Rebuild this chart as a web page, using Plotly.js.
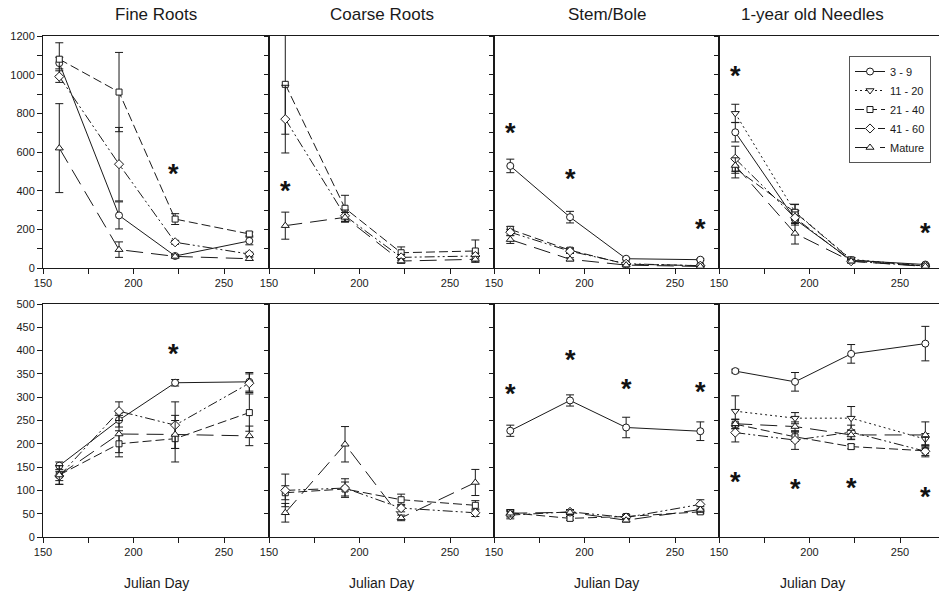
<!DOCTYPE html>
<html><head><meta charset="utf-8">
<script src="https://cdn.plot.ly/plotly-3.0.1.min.js"></script>
<style>html,body{margin:0;padding:0;background:#fff}#chart{width:939px;height:597px}</style>
</head><body><div id="chart"></div>
<script>
// ---------------- DATA ----------------
const days = [159, 192, 223, 264];
const groupNames = ['3 - 9', '11 - 20', '21 - 40', '41 - 60', 'Mature'];
const panelTitles = ['Fine Roots', 'Coarse Roots', 'Stem/Bole', '1-year old Needles'];
const xAxisTitle = 'Julian Day';
const xTickVals = [150, 200, 250];
const yTickValsTop = [0, 200, 400, 600, 800, 1000, 1200];
const yTickValsBottom = [0, 50, 100, 150, 200, 250, 300, 350, 400, 450, 500];

// Top row, Fine Roots
const fineTop39 = [1060, 272, 62, 140];      const fineTop39Err = [30, 70, 8, 20];
const fineTop2140 = [1080, 910, 253, 176];   const fineTop2140Err = [85, 205, 28, 10];
const fineTop4160 = [990, 537, 133, 72];     const fineTop4160Err = [30, 190, 10, 10];
const fineTopMat = [620, 95, 60, 48];        const fineTopMatErr = [230, 40, 8, 8];
// Top row, Coarse Roots
const coarseTop2140 = [950, 309, 79, 88];    const coarseTop2140Err = [258, 67, 30, 57];
const coarseTop4160 = [770, 270, 55, 62];    const coarseTop4160Err = [175, 30, 15, 15];
const coarseTopMat = [219, 262, 36, 45];     const coarseTopMatErr = [70, 25, 12, 15];
// Top row, Stem/Bole
const stemTop39 = [528, 263, 48, 43];        const stemTop39Err = [35, 30, 5, 5];
const stemTop2140 = [200, 92, 20, 12];       const stemTop2140Err = [15, 12, 4, 3];
const stemTop4160 = [185, 87, 22, 12];       const stemTop4160Err = [15, 12, 4, 3];
const stemTopMat = [147, 45, 15, 8];         const stemTopMatErr = [20, 8, 3, 2];
// Top row, 1-year old Needles
const needleTop39 = [702, 252, 40, 18];      const needleTop39Err = [50, 30, 8, 5];
const needleTop1120 = [800, 290, 45, 10];    const needleTop1120Err = [47, 40, 10, 3];
const needleTop2140 = [516, 288, 42, 10];    const needleTop2140Err = [50, 40, 10, 3];
const needleTop4160 = [565, 260, 35, 10];    const needleTop4160Err = [65, 30, 8, 3];
const needleTopMat = [530, 179, 35, 8];      const needleTopMatErr = [40, 55, 8, 3];

// Bottom row, Fine Roots
const fineBot39 = [153, 251, 331, 333];      const fineBot39Err = [8, 15, 7, 20];
const fineBot2140 = [133, 200, 211, 267];    const fineBot2140Err = [20, 28, 50, 40];
const fineBot4160 = [131, 270, 240, 330];    const fineBot4160Err = [10, 20, 50, 20];
const fineBotMat = [133, 221, 220, 217];     const fineBotMatErr = [20, 40, 30, 21];
// Bottom row, Coarse Roots
const coarseBot2140 = [95, 103, 80, 68];     const coarseBot2140Err = [15, 15, 12, 10];
const coarseBot4160 = [100, 105, 62, 52];    const coarseBot4160Err = [35, 20, 8, 8];
const coarseBotMat = [52, 199, 41, 117];     const coarseBotMatErr = [20, 38, 6, 28];
// Bottom row, Stem/Bole
const stemBot39 = [228, 293, 235, 227];      const stemBot39Err = [12, 12, 22, 20];
const stemBot2140 = [52, 40, 44, 54];        const stemBot2140Err = [5, 4, 4, 4];
const stemBot4160 = [47, 54, 42, 70];        const stemBot4160Err = [8, 5, 5, 10];
const stemBotMat = [51, 53, 36, 59];         const stemBotMatErr = [8, 5, 4, 6];
// Bottom row, 1-year old Needles
const needleBot39 = [356, 333, 393, 415];    const needleBot39Err = [4, 20, 20, 37];
const needleBot1120 = [270, 255, 255, 210];  const needleBot1120Err = [33, 12, 25, 12];
const needleBot2140 = [242, 215, 194, 185];  const needleBot2140Err = [10, 10, 5, 10];
const needleBot4160 = [224, 208, 225, 184];  const needleBot4160Err = [20, 20, 15, 12];
const needleBotMat = [243, 237, 219, 219];   const needleBotMatErr = [10, 10, 10, 28];

// Significance asterisks (day, value)
const starsFineTopX = [222];            const starsFineTopY = [515];
const starsCoarseTopX = [159];          const starsCoarseTopY = [430];
const starsStemTopX = [159, 192, 264];  const starsStemTopY = [731, 490, 234];
const starsNeedleTopX = [159, 264];     const starsNeedleTopY = [1024, 214];
const starsFineBotX = [222];            const starsFineBotY = [405];
const starsStemBotX = [159, 192, 223, 264];   const starsStemBotY = [319, 392, 330, 325];
const starsNeedleBotX = [159, 192, 223, 264]; const starsNeedleBotY = [131, 115, 118, 99];

// ---------------- TABLE ----------------
const panels = [
  {row: 0, col: 0, series: [[0, fineTop39, fineTop39Err], [2, fineTop2140, fineTop2140Err], [3, fineTop4160, fineTop4160Err], [4, fineTopMat, fineTopMatErr]], stars: [starsFineTopX, starsFineTopY]},
  {row: 0, col: 1, series: [[2, coarseTop2140, coarseTop2140Err], [3, coarseTop4160, coarseTop4160Err], [4, coarseTopMat, coarseTopMatErr]], stars: [starsCoarseTopX, starsCoarseTopY]},
  {row: 0, col: 2, series: [[0, stemTop39, stemTop39Err], [2, stemTop2140, stemTop2140Err], [3, stemTop4160, stemTop4160Err], [4, stemTopMat, stemTopMatErr]], stars: [starsStemTopX, starsStemTopY]},
  {row: 0, col: 3, legend: true, series: [[0, needleTop39, needleTop39Err], [1, needleTop1120, needleTop1120Err], [2, needleTop2140, needleTop2140Err], [3, needleTop4160, needleTop4160Err], [4, needleTopMat, needleTopMatErr]], stars: [starsNeedleTopX, starsNeedleTopY]},
  {row: 1, col: 0, series: [[0, fineBot39, fineBot39Err], [2, fineBot2140, fineBot2140Err], [3, fineBot4160, fineBot4160Err], [4, fineBotMat, fineBotMatErr]], stars: [starsFineBotX, starsFineBotY]},
  {row: 1, col: 1, series: [[2, coarseBot2140, coarseBot2140Err], [3, coarseBot4160, coarseBot4160Err], [4, coarseBotMat, coarseBotMatErr]], stars: [[], []]},
  {row: 1, col: 2, series: [[0, stemBot39, stemBot39Err], [2, stemBot2140, stemBot2140Err], [3, stemBot4160, stemBot4160Err], [4, stemBotMat, stemBotMatErr]], stars: [starsStemBotX, starsStemBotY]},
  {row: 1, col: 3, series: [[0, needleBot39, needleBot39Err], [1, needleBot1120, needleBot1120Err], [2, needleBot2140, needleBot2140Err], [3, needleBot4160, needleBot4160Err], [4, needleBotMat, needleBotMatErr]], stars: [starsNeedleBotX, starsNeedleBotY]}
];

// ---------------- STYLE ----------------
const W = 939, H = 597;
const FONT = 'Liberation Sans, Arial, Helvetica, sans-serif';
const INK = '#1a1a1a';
const groupSymbols = ['circle', 'triangle-down', 'square', 'diamond', 'triangle-up'];
const groupSizes = [7, 7, 6, 7, 7];
const groupDash = ['solid', '2px,3px', '9px,4px', '10px,3px,2px,3px,2px,3px', '17px,8px'];
const colPx = [[43, 269], [269, 494], [494, 719], [719, 939]];
const rowPx = [[36, 268], [304, 537]];
const pxPerDay = 1.81;

const traces = [];
const layout = {
  width: W, height: H,
  margin: {l: 0, r: 0, t: 0, b: 0},
  paper_bgcolor: '#fff', plot_bgcolor: '#fff',
  font: {family: FONT, size: 11, color: INK},
  showlegend: true,
  legend: {
    x: 849 / W, y: 1 - 56 / H, xanchor: 'left', yanchor: 'top',
    bordercolor: '#555', borderwidth: 1, bgcolor: '#fff',
    font: {family: FONT, size: 11, color: INK},
    itemwidth: 30, tracegroupgap: 0
  },
  annotations: []
};

panels.forEach((p, idx) => {
  const n = idx + 1;
  const xa = 'x' + (n === 1 ? '' : n), ya = 'y' + (n === 1 ? '' : n);
  const xKey = 'xaxis' + (n === 1 ? '' : n), yKey = 'yaxis' + (n === 1 ? '' : n);
  const [x0, x1] = colPx[p.col];
  const [yt, yb] = rowPx[p.row];
  layout[xKey] = {
    domain: [x0 / W, x1 / W], anchor: ya,
    range: [150, 150 + (x1 - x0) / pxPerDay],
    tickmode: 'array', tickvals: xTickVals,
    ticks: 'outside', ticklen: 5, tickwidth: 1, tickcolor: INK,
    minor: {dtick: 25, tick0: 150, ticks: 'outside', ticklen: 5, tickwidth: 1, tickcolor: INK},
    showline: true, linecolor: INK, linewidth: 1, mirror: true,
    showgrid: false, zeroline: false, fixedrange: true,
    tickfont: {family: FONT, size: 11, color: INK}
  };
  const top = p.row === 0;
  layout[yKey] = {
    domain: [1 - yb / H, 1 - yt / H], anchor: xa,
    range: top ? [0, 1200] : [0, 500],
    tickmode: 'array', tickvals: top ? yTickValsTop : yTickValsBottom,
    ticks: 'outside', ticklen: p.col === 0 ? 5 : 4, tickwidth: 1, tickcolor: INK,
    showticklabels: p.col === 0,
    showline: true, linecolor: INK, linewidth: 1, mirror: true,
    showgrid: false, zeroline: false, fixedrange: true,
    tickfont: {family: FONT, size: 11, color: INK}
  };
  if (top) layout[yKey].minor = {dtick: 100, ticks: 'outside', ticklen: p.col === 0 ? 5 : 4, tickwidth: 1, tickcolor: INK};

  p.series.forEach(([g, vals, errs]) => {
    traces.push({
      type: 'scatter', mode: 'lines+markers',
      x: days, y: vals, xaxis: xa, yaxis: ya,
      name: groupNames[g], legendgroup: groupNames[g],
      showlegend: !!p.legend,
      line: {color: INK, width: 1, dash: groupDash[g]},
      marker: {symbol: groupSymbols[g], size: groupSizes[g], color: '#fff', line: {color: INK, width: 1}},
      error_y: {type: 'data', array: errs, visible: true, color: INK, thickness: 1, width: 4},
      hoverinfo: 'skip'
    });
  });

  const [sx, sy] = p.stars;
  sx.forEach((d, k) => {
    layout.annotations.push({
      x: d, y: sy[k], xref: xa, yref: ya, text: '<b>*</b>', showarrow: false,
      font: {family: FONT, size: 27, color: '#111'}, yshift: -6
    });
  });
});

// Panel titles and x-axis titles
panelTitles.forEach((t, c) => {
  const cx = (colPx[c][0] + colPx[c][1]) / 2;
  const cxTitle = c === 3 ? 812 : cx;
  layout.annotations.push({
    x: cxTitle / W, y: 1 - 15 / H, xref: 'paper', yref: 'paper', text: t, showarrow: false,
    xanchor: 'center', yanchor: 'middle', font: {family: FONT, size: 17, color: INK}
  });
  layout.annotations.push({
    x: cxTitle / W, y: 1 - 583 / H, xref: 'paper', yref: 'paper', text: xAxisTitle, showarrow: false,
    xanchor: 'center', yanchor: 'middle', font: {family: FONT, size: 14, color: INK}
  });
});

Plotly.newPlot('chart', traces, layout, {staticPlot: true, displayModeBar: false});
</script></body></html>
